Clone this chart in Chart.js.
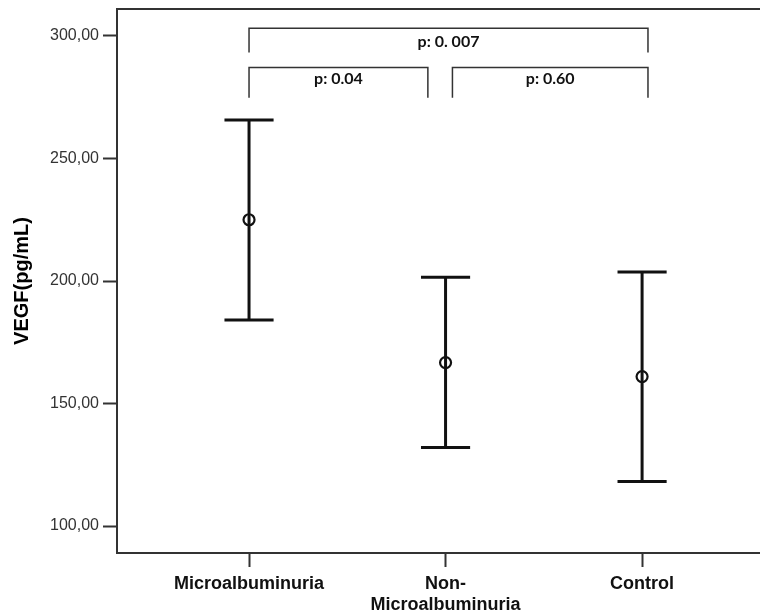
<!DOCTYPE html>
<html>
<head>
<meta charset="utf-8">
<script src="https://cdn.jsdelivr.net/npm/chart.js@4/dist/chart.umd.min.js"></script>
<style>
  html, body { margin: 0; padding: 0; background: #fff; }
  #wrap { width: 760px; height: 613px; }
</style>
</head>
<body>
<div id="wrap"><canvas id="errChart" width="760" height="613"></canvas></div>
<script>
// ------------ data ------------ //
var groups = ["Microalbuminuria", ["Non-", "Microalbuminuria"], "Control"];
var means = [225.0, 166.7, 161.0];
var upper = [265.7, 201.5, 203.7];
var lower = [184.1, 132.1, 118.2];
var yTicks = [100, 150, 200, 250, 300];

// significance brackets: [from, to, top, foot, label, labelY]
var bracketFrom = [0, 0, 1.035];
var bracketTo = [2.03, 0.91, 2.03];
var bracketTop = [303.1, 287.1, 287.1];
var bracketFoot = [293.2, 274.8, 274.8];
var bracketText = ["p: 0. 007", "p: 0.04", "p: 0.60"];
var bracketTextY = [297.6, 282.6, 282.6];

var capHalf = 0.125;
var ink = '#111';

var datasets = [];

// whiskers + caps
for (let i = 0; i < means.length; i++) {
    datasets.push({
        type: 'line',
        data: [{ x: i, y: lower[i] }, { x: i, y: upper[i] }],
        borderColor: ink, borderWidth: 3, pointRadius: 0
    });
    datasets.push({
        type: 'line',
        data: [{ x: i - capHalf, y: upper[i] }, { x: i + capHalf, y: upper[i] }],
        borderColor: ink, borderWidth: 3, pointRadius: 0
    });
    datasets.push({
        type: 'line',
        data: [{ x: i - capHalf, y: lower[i] }, { x: i + capHalf, y: lower[i] }],
        borderColor: ink, borderWidth: 3, pointRadius: 0
    });
}

// brackets
for (let b = 0; b < bracketText.length; b++) {
    datasets.push({
        type: 'line',
        data: [
            { x: bracketFrom[b], y: bracketFoot[b] },
            { x: bracketFrom[b], y: bracketTop[b] },
            { x: bracketTo[b], y: bracketTop[b] },
            { x: bracketTo[b], y: bracketFoot[b] }
        ],
        borderColor: '#333', borderWidth: 1.5, pointRadius: 0
    });
}

// mean markers
datasets.push({
    type: 'scatter',
    data: means.map((m, i) => ({ x: i, y: m })),
    pointStyle: 'circle',
    pointRadius: 5.5,
    borderColor: ink,
    borderWidth: 2.2,
    backgroundColor: 'rgba(0,0,0,0)'
});

// top frame line + p-value labels
const extras = {
    id: 'extras',
    afterDatasetsDraw(chart) {
        const ctx = chart.ctx;
        const a = chart.chartArea;
        const xs = chart.scales.x, ys = chart.scales.y;
        ctx.save();
        ctx.strokeStyle = '#333';
        ctx.lineWidth = 2;
        ctx.beginPath();
        ctx.moveTo(a.left, a.top);
        ctx.lineTo(chart.width, a.top);
        ctx.stroke();

        ctx.fillStyle = '#111';
        ctx.font = 'bold 16px Lato, sans-serif';
        ctx.textAlign = 'center';
        ctx.textBaseline = 'middle';
        for (let b = 0; b < bracketText.length; b++) {
            const cx = (xs.getPixelForValue(bracketFrom[b]) + xs.getPixelForValue(bracketTo[b])) / 2;
            ctx.fillText(bracketText[b], cx, ys.getPixelForValue(bracketTextY[b]));
        }
        ctx.restore();
    }
};

new Chart("errChart", {
    data: { datasets: datasets },
    options: {
        responsive: false,
        animation: false,
        layout: { autoPadding: false, padding: { top: 9, right: 0, left: 0, bottom: 0 } },
        plugins: { legend: { display: false }, tooltip: { enabled: false } },
        scales: {
            x: {
                type: 'linear',
                min: -0.6718,
                max: 2.600,
                afterBuildTicks: (axis) => { axis.ticks = [0, 1, 2].map(v => ({ value: v })); },
                afterFit: (axis) => {
                    axis.height = 60;
                    axis.paddingLeft = 0;
                    axis.paddingRight = 0;
                },
                ticks: {
                    callback: (v) => groups[v],
                    color: '#111',
                    font: { family: 'Arial, "Liberation Sans", sans-serif', size: 18, weight: 'bold' },
                    padding: 6,
                    maxRotation: 0
                },
                grid: { drawOnChartArea: false, tickLength: 14, tickColor: '#333', tickWidth: 2 },
                border: { color: '#333', width: 2 }
            },
            y: {
                min: 89,
                max: 311,
                afterBuildTicks: (axis) => { axis.ticks = yTicks.map(v => ({ value: v })); },
                afterFit: (axis) => {
                    axis.width = 117;
                    axis.paddingTop = 0;
                    axis.paddingBottom = 0;
                },
                ticks: {
                    callback: (v) => v.toFixed(2).replace('.', ','),
                    color: '#333',
                    font: { family: 'Arial, "Liberation Sans", sans-serif', size: 16 },
                    padding: 4
                },
                grid: { drawOnChartArea: false, tickLength: 14, tickColor: '#333', tickWidth: 2 },
                border: { color: '#333', width: 2 },
                title: {
                    display: true,
                    text: 'VEGF(pg/mL)',
                    color: '#000',
                    font: { family: 'Arial, "Liberation Sans", sans-serif', size: 20, weight: 'bold' },
                    padding: { top: 10, bottom: 0 }
                }
            }
        }
    },
    plugins: [extras]
});
</script>
</body>
</html>
